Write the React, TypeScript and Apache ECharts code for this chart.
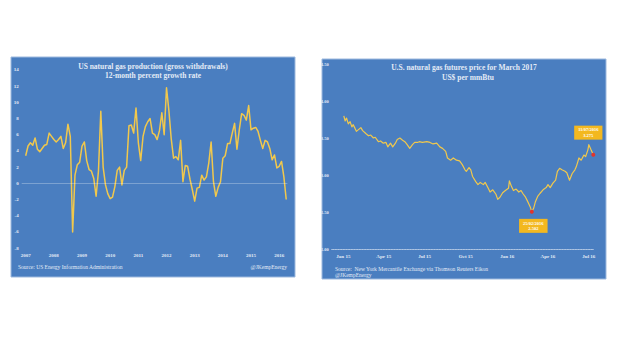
import React, { useEffect, useRef } from "react";
import * as echarts from "echarts";

// ---------- Left chart: US natural gas production, 12-month % growth (monthly from Jan 2007) ----------
const leftStartYear = 2007;
const leftYearTicks = ["2007", "2008", "2009", "2010", "2011", "2012", "2013", "2014", "2015", "2016"];
const leftGrowth = [
  3.4, 4.6, 5.0, 4.7, 5.6, 4.2, 3.9, 4.3, 4.7, 4.8, 6.2, 5.8,
  5.4, 5.1, 5.4, 5.8, 4.3, 5.0, 7.3, 5.8, -6.0, 1.0, 2.3, 2.6,
  4.6, 5.1, 2.8, 1.7, 1.5, 0.6, -1.6, 1.5, 8.9, 2.0, -0.2, -1.3,
  -1.9, -1.7, -0.4, 1.6, 2.0, -0.2, 1.6, 2.0, 7.1, 7.2, 6.2, 9.3,
  5.0, 2.8, 5.8, 7.0, 7.6, 8.0, 6.2, 6.0, 5.4, 6.5, 8.7, 6.0,
  11.8, 9.0, 5.5, 3.1, 3.3, 2.9, 5.3, 0.2, 2.2, 2.1, 0.5, -0.8,
  -2.2, -0.6, -0.5, 1.0, 0.4, 0.8, 2.5, 5.1, 0.2, -1.6, -0.5, 0.2,
  3.1, 3.4, 4.9, 4.9, 6.2, 7.4, 4.2, 6.6, 8.6, 8.4, 7.8, 9.6,
  6.6, 6.8, 6.9, 6.4, 5.3, 4.3, 5.3, 5.1, 4.3, 2.9, 3.5, 1.9,
  2.1, 2.7, 0.8, -2.0,
];
const leftYTicks = [-8, -6, -4, -2, 0, 2, 4, 6, 8, 10, 12, 14];

// ---------- Right chart: NG futures price for March 2017 ----------
const rightDates = [
  "2015-01-02", "2015-01-05", "2015-01-08", "2015-01-12", "2015-01-16", "2015-01-20", "2015-01-23",
  "2015-01-27", "2015-01-30", "2015-02-03", "2015-02-09", "2015-02-13", "2015-02-20", "2015-02-26",
  "2015-03-03", "2015-03-09", "2015-03-13", "2015-03-20", "2015-03-25", "2015-03-31", "2015-04-06",
  "2015-04-10", "2015-04-16", "2015-04-21", "2015-04-27", "2015-05-01", "2015-05-07", "2015-05-13",
  "2015-05-18", "2015-05-22", "2015-05-29", "2015-06-04", "2015-06-09", "2015-06-15", "2015-06-19",
  "2015-06-26", "2015-07-06", "2015-07-13", "2015-07-20", "2015-07-28", "2015-08-04", "2015-08-10",
  "2015-08-17", "2015-08-21", "2015-08-28", "2015-09-03", "2015-09-10", "2015-09-17", "2015-09-23",
  "2015-09-29", "2015-10-02", "2015-10-08", "2015-10-12", "2015-10-16", "2015-10-23", "2015-10-28",
  "2015-11-02", "2015-11-09", "2015-11-13", "2015-11-19", "2015-11-24", "2015-11-30", "2015-12-07",
  "2015-12-11", "2015-12-16", "2015-12-22", "2015-12-28", "2016-01-04", "2016-01-06", "2016-01-11",
  "2016-01-15", "2016-01-21", "2016-01-27", "2016-02-01", "2016-02-05", "2016-02-11", "2016-02-16",
  "2016-02-22", "2016-02-25", "2016-02-29", "2016-03-04", "2016-03-09", "2016-03-14", "2016-03-21",
  "2016-03-28", "2016-04-01", "2016-04-06", "2016-04-12", "2016-04-18", "2016-04-22", "2016-04-27",
  "2016-05-02", "2016-05-09", "2016-05-13", "2016-05-19", "2016-05-25", "2016-05-31", "2016-06-03",
  "2016-06-09", "2016-06-14", "2016-06-20", "2016-06-24", "2016-06-29", "2016-07-01", "2016-07-06",
  "2016-07-11",
];
const rightPrices = [
  3.80, 3.73, 3.77, 3.69, 3.72, 3.65, 3.68,
  3.63, 3.59, 3.61, 3.64, 3.60, 3.56, 3.53,
  3.54, 3.50, 3.51, 3.45, 3.46, 3.43, 3.44,
  3.38, 3.43, 3.38, 3.43, 3.48, 3.50, 3.47,
  3.45, 3.42, 3.36, 3.41, 3.44, 3.44, 3.45,
  3.44, 3.45, 3.44, 3.42, 3.43, 3.38, 3.36,
  3.32, 3.23, 3.20, 3.23, 3.20, 3.19, 3.14,
  3.07, 3.05, 3.10, 3.07, 2.98, 2.91, 2.87,
  2.90, 2.87, 2.90, 2.83, 2.77, 2.80, 2.74,
  2.67, 2.70, 2.76, 2.79, 2.82, 2.92, 2.84,
  2.79, 2.81, 2.77, 2.79, 2.75, 2.70, 2.64,
  2.56, 2.502, 2.55, 2.64, 2.71, 2.75, 2.80,
  2.83, 2.87, 2.83, 2.89, 2.93, 3.05, 3.09,
  3.07, 3.05, 3.03, 2.93, 3.02, 3.07, 3.11,
  3.23, 3.20, 3.27, 3.25, 3.34, 3.41, 3.34,
  3.275,
];
const rightXTicks = ["2015-01-01", "2015-04-01", "2015-07-01", "2015-10-01", "2016-01-01", "2016-04-01", "2016-07-01"];
const rightLowDate = "2016-02-25";
const rightLowLabel = "25/02/2016";
const rightLastDate = "2016-07-11";
const rightLastLabel = "11/07/2016";

const MONTHS = ["Jan", "Feb", "Mar", "Apr", "May", "Jun", "Jul", "Aug", "Sep", "Oct", "Nov", "Dec"];

export default function App() {
  const ref = useRef<HTMLDivElement>(null);

  useEffect(() => {
    if (!ref.current) return;
    const chart = echarts.init(ref.current, undefined, { renderer: "svg" });
    const serif = "'Liberation Serif', 'DejaVu Serif', serif";
    const txt = "#e3ebf6";
    const blue = "#4a7ec0";
    const gold = "#f1c84c";

    const leftData = leftGrowth.map((v, i) => [i, v]);
    const rightData = rightDates.map((d, i) => [Date.parse(d), rightPrices[i]]);
    const lowIdx = rightDates.indexOf(rightLowDate);
    const lastIdx = rightDates.indexOf(rightLastDate);

    const option: any = {
      animation: false,
      backgroundColor: "#ffffff",
      graphic: [
        { type: "rect", z: -10, shape: { x: 11, y: 57, width: 284, height: 220 }, style: { fill: blue, stroke: "#9db9de", lineWidth: 1 } },
        { type: "rect", z: -10, shape: { x: 322, y: 59, width: 284, height: 220 }, style: { fill: blue, stroke: "#9db9de", lineWidth: 1 } },
        { type: "text", z: 10, x: 153, y: 66, style: { text: "US natural gas production (gross withdrawals)", fill: txt, font: `bold 7.5px ${serif}`, textAlign: "center", textVerticalAlign: "middle" } },
        { type: "text", z: 10, x: 153, y: 75, style: { text: "12-month percent growth rate", fill: txt, font: `bold 7.5px ${serif}`, textAlign: "center", textVerticalAlign: "middle" } },
        { type: "text", z: 10, x: 18, y: 267, style: { text: "Source: US Energy Information Administration", fill: txt, font: `5.5px ${serif}`, textAlign: "left", textVerticalAlign: "middle" } },
        { type: "text", z: 10, x: 287, y: 267, style: { text: "@JKempEnergy", fill: txt, font: `5.5px ${serif}`, textAlign: "right", textVerticalAlign: "middle" } },
        { type: "text", z: 10, x: 464, y: 67.5, style: { text: "U.S. natural gas futures price for March 2017", fill: txt, font: `bold 7.5px ${serif}`, textAlign: "center", textVerticalAlign: "middle" } },
        { type: "text", z: 10, x: 468, y: 77.5, style: { text: "US$ per mmBtu", fill: txt, font: `bold 7.5px ${serif}`, textAlign: "center", textVerticalAlign: "middle" } },
        { type: "text", z: 10, x: 335, y: 268.7, style: { text: "Source:  New York Mercantile Exchange via Thomson Reuters Eikon", fill: txt, font: `5.5px ${serif}`, textAlign: "left", textVerticalAlign: "middle" } },
        { type: "text", z: 10, x: 335, y: 275, style: { text: "@JKempEnergy", fill: txt, font: `5.5px ${serif}`, textAlign: "left", textVerticalAlign: "middle" } },
      ],
      grid: [
        { left: 21.7, top: 69.9, width: 265.7, height: 178.2, outerBoundsMode: "none", containLabel: false },
        { left: 331.7, top: 64, width: 261.6, height: 185, outerBoundsMode: "none", containLabel: false },
      ],
      xAxis: [
        {
          gridIndex: 0,
          type: "value",
          min: -1.7,
          max: 111.5,
          axisLine: { show: false },
          axisTick: { show: false },
          splitLine: { show: false },
          axisLabel: {
            customValues: leftYearTicks.map((y) => (Number(y) - leftStartYear) * 12),
            formatter: (v: number) => String(leftStartYear + Math.round(v / 12)),
            color: txt,
            fontSize: 5,
            fontWeight: "bold",
            fontFamily: serif,
            margin: 4.5,
          },
        },
        {
          gridIndex: 1,
          type: "value",
          min: Date.UTC(2014, 11, 6),
          max: Date.UTC(2016, 6, 11),
          axisLine: { show: true, lineStyle: { color: "#c9d8ec", type: "dotted", width: 0.8 } },
          axisTick: { show: false },
          splitLine: { show: false },
          axisLabel: {
            customValues: rightXTicks.map((d) => Date.parse(d)),
            formatter: (v: number) => {
              const d = new Date(v);
              return MONTHS[d.getUTCMonth()] + " " + String(d.getUTCFullYear()).slice(2);
            },
            color: txt,
            fontSize: 5,
            fontWeight: "bold",
            fontFamily: serif,
            margin: 5,
          },
        },
      ],
      yAxis: [
        {
          gridIndex: 0,
          type: "value",
          min: leftYTicks[0],
          max: leftYTicks[leftYTicks.length - 1],
          interval: 2,
          axisLine: { show: false },
          axisTick: { show: false },
          splitLine: { show: false },
          axisLabel: { color: txt, fontSize: 5, fontWeight: "bold", fontFamily: serif, margin: 3 },
        },
        {
          gridIndex: 1,
          type: "value",
          min: 2,
          max: 4.5,
          interval: 0.5,
          axisLine: { show: false },
          axisTick: { show: false },
          splitLine: { show: false },
          axisLabel: { color: txt, fontSize: 4.5, fontWeight: "bold", fontFamily: serif, margin: 3, formatter: (v: number) => v.toFixed(2) },
        },
      ],
      series: [
        {
          type: "line",
          xAxisIndex: 0,
          yAxisIndex: 0,
          data: leftData,
          showSymbol: false,
          lineStyle: { color: gold, width: 1.5, join: "round" },
          markLine: {
            silent: true,
            symbol: "none",
            label: { show: false },
            lineStyle: { color: "rgba(255,255,255,0.28)", width: 1, type: "solid" },
            data: [{ yAxis: 0 }],
          },
          z: 3,
        },
        {
          type: "line",
          xAxisIndex: 1,
          yAxisIndex: 1,
          data: rightData,
          showSymbol: false,
          lineStyle: { color: gold, width: 1.2, join: "round" },
          markPoint: {
            symbol: "circle",
            symbolSize: 4,
            itemStyle: { color: "#e0352c" },
            data: [
              {
                coord: rightData[lowIdx],
                label: {
                  show: true,
                  position: "inside",
                  offset: [1.5, 14],
                  formatter: rightLowLabel + "\n" + rightPrices[lowIdx].toFixed(3),
                },
              },
              {
                coord: rightData[lastIdx],
                label: {
                  show: true,
                  position: "inside",
                  offset: [-5, -22],
                  formatter: rightLastLabel + "\n" + rightPrices[lastIdx].toFixed(3),
                },
              },
            ],
            label: {
              color: "#ffffff",
              backgroundColor: "#f3b81f",
              fontSize: 4.5,
              lineHeight: 5.5,
              fontWeight: "bold",
              fontFamily: serif,
              padding: [1.5, 4],
              align: "center",
            },
          },
          z: 3,
        },
      ],
    };
    chart.setOption(option);
    return () => chart.dispose();
  }, []);

  return (
    <div style={{ position: "fixed", left: 0, top: 0, width: 620, height: 355, background: "#fff" }}>
      <div ref={ref} style={{ width: 620, height: 355 }} />
    </div>
  );
}
